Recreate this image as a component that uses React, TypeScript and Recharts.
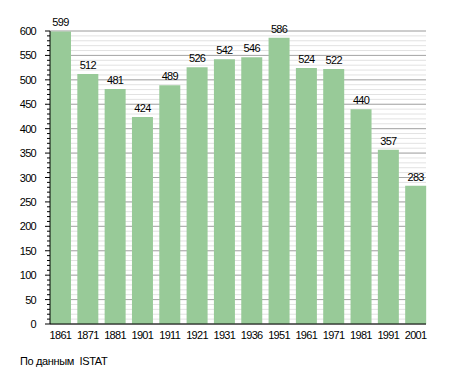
import React from "react";
import { BarChart, Bar, XAxis, YAxis, CartesianGrid, LabelList } from "recharts";

const years = ["1861", "1871", "1881", "1901", "1911", "1921", "1931", "1936", "1951", "1961", "1971", "1981", "1991", "2001"];
const population = [599, 512, 481, 424, 489, 526, 542, 546, 586, 524, 522, 440, 357, 283];
const minorTicks = Array.from({ length: 61 }, (_, i) => i * 10);
const majorTicks = [0, 50, 100, 150, 200, 250, 300, 350, 400, 450, 500, 550, 600];
const sourceNote = "По данным  ISTAT";

const data = years.map((y, i) => ({ year: y, value: population[i] }));

const FONT = "'Liberation Sans', Arial, sans-serif";
const LS = -0.7;

const YTick = (props: any) => {
  const { x, y, payload } = props;
  const v = payload.value as number;
  const major = v % 50 === 0;
  return (
    <g>
      <line x1={x - (major ? 5 : 3)} x2={x} y1={y} y2={y} stroke="#000" strokeWidth={1} />
      {major && (
        <text x={x - 14} y={y} dy={4} textAnchor="end" fontSize={11} fontFamily={FONT} fill="#000" letterSpacing={LS}>
          {v}
        </text>
      )}
    </g>
  );
};

export default function App() {
  return (
    <div style={{ position: "absolute", left: 0, top: 0, width: 455, height: 373, background: "#fff" }}>
      <BarChart
        width={455}
        height={373}
        data={data}
        margin={{ top: 31, right: 29, bottom: 0, left: 0 }}
        barCategoryGap={3.25}
      >
        <CartesianGrid horizontalValues={minorTicks} vertical={false} stroke="#e2e2e2" strokeWidth={1} />
        <CartesianGrid horizontalValues={majorTicks} vertical={false} stroke="#a8a8a8" strokeWidth={1} />
        <XAxis
          dataKey="year"
          height={49}
          padding={{ left: -3.25, right: -3.25 }}
          tickLine={false}
          axisLine={{ stroke: "#000", strokeWidth: 1 }}
          interval={0}
          tick={{ fontSize: 11, fontFamily: FONT, fill: "#000", letterSpacing: LS }}
          tickMargin={1}
        />
        <YAxis
          width={50}
          domain={[0, 600]}
          ticks={minorTicks}
          interval={0}
          tickLine={false}
          tickSize={0}
          tickMargin={0}
          axisLine={{ stroke: "#000", strokeWidth: 1 }}
          tick={<YTick />}
        />
        <Bar dataKey="value" fill="#98ca98" isAnimationActive={false}>
          <LabelList dataKey="value" position="top" offset={5} fontSize={11} fontFamily={FONT} fill="#000" letterSpacing={LS} />
        </Bar>
      </BarChart>
      <div style={{ position: "absolute", left: 20, top: 355, fontSize: 11, fontFamily: FONT, color: "#000", whiteSpace: "pre", letterSpacing: -0.35 }}>
        {sourceNote}
      </div>
    </div>
  );
}
